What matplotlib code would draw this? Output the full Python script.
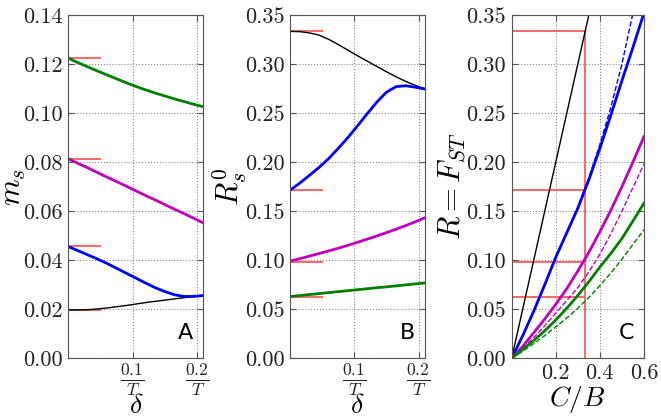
import numpy as np
import matplotlib
matplotlib.use('Agg')
import matplotlib.pyplot as plt

plt.rcParams['mathtext.fontset'] = 'cm'
plt.rcParams['font.family'] = 'cmr10'
plt.rcParams['axes.unicode_minus'] = False
plt.rcParams['xtick.direction'] = 'in'
plt.rcParams['ytick.direction'] = 'in'
plt.rcParams['xtick.top'] = True
plt.rcParams['ytick.right'] = True

# panel A / B: x is delta (units of 1/T)
delta = [0, 0.015, 0.03, 0.045, 0.06, 0.075, 0.09, 0.105, 0.12, 0.135, 0.15, 0.165, 0.18, 0.195, 0.21]

ms_green = [0.1224, 0.1206, 0.1189, 0.1172, 0.1156, 0.1140, 0.1124, 0.1109, 0.1095, 0.1082,
            0.1070, 0.1058, 0.1047, 0.1036, 0.1026]
ms_magenta = [0.0814, 0.0795, 0.0777, 0.0758, 0.0739, 0.0721, 0.0702, 0.0683, 0.0664, 0.0646,
              0.0627, 0.0608, 0.0590, 0.0571, 0.0552]
ms_blue = [0.0455, 0.0439, 0.0422, 0.0405, 0.0387, 0.0367, 0.0347, 0.0327, 0.0307, 0.0288,
           0.0272, 0.0259, 0.0252, 0.0252, 0.0256]
ms_black = [0.0197, 0.0197, 0.0198, 0.0201, 0.0205, 0.0210, 0.0215, 0.0221, 0.0227, 0.0232,
            0.0237, 0.0242, 0.0247, 0.0252, 0.0256]
ms_red = [0.1224, 0.0814, 0.0458, 0.0197]

rs_black = [0.3333, 0.3331, 0.3318, 0.3296, 0.3253, 0.3200, 0.3142, 0.3085, 0.3030, 0.2976,
            0.2922, 0.2870, 0.2823, 0.2783, 0.2747]
rs_blue = [0.1713, 0.1785, 0.1864, 0.1945, 0.2035, 0.2140, 0.2250, 0.2370, 0.2493, 0.2612,
           0.2713, 0.2770, 0.2779, 0.2764, 0.2745]
rs_magenta = [0.0990, 0.1015, 0.1041, 0.1067, 0.1094, 0.1122, 0.1151, 0.1182, 0.1214, 0.1247,
              0.1281, 0.1316, 0.1353, 0.1392, 0.1433]
rs_green = [0.0629, 0.0639, 0.0649, 0.0659, 0.0669, 0.0679, 0.0689, 0.0699, 0.0709, 0.0719,
            0.0728, 0.0738, 0.0748, 0.0758, 0.0768]
rs_red = [0.3333, 0.1713, 0.0985, 0.0629]

# panel C: x is C/B
cb = [0, 0.05, 0.1, 0.15, 0.2, 0.25, 0.3, 0.35, 0.4, 0.45, 0.5, 0.55, 0.6]
f_black = [0, 0.05, 0.1, 0.15, 0.2, 0.25, 0.3, 0.35, 0.4, 0.45, 0.5, 0.55, 0.6]
f_blue = [0, 0.023, 0.048, 0.075, 0.103, 0.128, 0.153, 0.182, 0.214, 0.248, 0.283, 0.317, 0.352]
f_blue_d = [0, 0.023, 0.048, 0.075, 0.103, 0.128, 0.154, 0.184, 0.218, 0.256, 0.300, 0.352, 0.410]
f_magenta = [0, 0.012, 0.026, 0.040, 0.055, 0.071, 0.089, 0.108, 0.129, 0.151, 0.175, 0.200, 0.226]
f_magenta_d = [0, 0.010, 0.021, 0.033, 0.046, 0.059, 0.072, 0.088, 0.106, 0.127, 0.150, 0.174, 0.198]
f_green = [0, 0.009, 0.018, 0.028, 0.039, 0.051, 0.064, 0.078, 0.093, 0.107, 0.122, 0.140, 0.158]
f_green_d = [0, 0.007, 0.015, 0.023, 0.032, 0.041, 0.051, 0.062, 0.074, 0.087, 0.101, 0.116, 0.131]
cb_mark = 1/3

red = '#ff6666'
gcol = '#008000'
mcol = '#bf00bf'
bcol = '#0000ff'

fig = plt.figure(figsize=(6.61, 4.18), dpi=100)
axA = fig.add_axes([0.1033, 0.143, 0.2043, 0.821])
axB = fig.add_axes([0.4387, 0.143, 0.2043, 0.821])
axC = fig.add_axes([0.7741, 0.143, 0.2001, 0.821])

def style(ax):
    for s in ax.spines.values():
        s.set_color('#555555')
    ax.tick_params(colors='#555555', labelcolor='#222222', labelsize=16, length=4, pad=4)
    ax.grid(True, linestyle=':', color='#888888', linewidth=0.8)
    ax.set_axisbelow(True)

# ---- A
for v in ms_red:
    axA.plot([0, 0.05], [v, v], color=red, lw=1.4)
axA.plot(delta, ms_black, color='k', lw=1)
axA.plot(delta, ms_blue, color=bcol, lw=2)
axA.plot(delta, ms_magenta, color=mcol, lw=2)
axA.plot(delta, ms_green, color=gcol, lw=2)
axA.set_xlim(0, 0.21)
axA.set_ylim(0, 0.14)
axA.set_yticks(np.arange(0, 0.141, 0.02))
axA.set_yticklabels(['%.2f' % t for t in np.arange(0, 0.141, 0.02)])
axA.set_ylabel('$m_s$', fontsize=22)
axA.yaxis.set_label_coords(-0.30, 0.5)

# ---- B
for v in rs_red:
    axB.plot([0, 0.05], [v, v], color=red, lw=1.4)
axB.plot(delta, rs_black, color='k', lw=1)
axB.plot(delta, rs_blue, color=bcol, lw=2)
axB.plot(delta, rs_magenta, color=mcol, lw=2)
axB.plot(delta, rs_green, color=gcol, lw=2)
axB.set_xlim(0, 0.21)
axB.set_ylim(0, 0.35)
axB.set_yticks(np.arange(0, 0.351, 0.05))
axB.set_yticklabels(['%.2f' % t for t in np.arange(0, 0.351, 0.05)])
axB.set_ylabel('$R_s^0$', fontsize=22)
axB.yaxis.set_label_coords(-0.30, 0.5)

# ---- C
for v in rs_red:
    axC.plot([0, cb_mark], [v, v], color=red, lw=1.4)
axC.plot([cb_mark, cb_mark], [0, rs_red[0]], color=red, lw=1.4)
axC.plot(cb, f_black, color='k', lw=1)
axC.plot(cb, f_blue, color=bcol, lw=2)
axC.plot(cb, f_blue_d, color=bcol, lw=1, ls='--')
axC.plot(cb, f_magenta, color=mcol, lw=2)
axC.plot(cb, f_magenta_d, color=mcol, lw=1, ls='--')
axC.plot(cb, f_green, color=gcol, lw=2)
axC.plot(cb, f_green_d, color=gcol, lw=1, ls='--')
axC.set_xlim(0, 0.6)
axC.set_ylim(0, 0.35)
axC.set_xticks([0.2, 0.4, 0.6])
axC.set_xticklabels(['0.2', '0.4', '0.6'])
axC.set_yticks(np.arange(0, 0.351, 0.05))
axC.set_yticklabels(['%.2f' % t for t in np.arange(0, 0.351, 0.05)])
axC.set_ylabel('$R = F_{ST}$', fontsize=22)
axC.yaxis.set_label_coords(-0.33, 0.5)
axC.set_xlabel('$C/B$', fontsize=20)
axC.xaxis.set_label_coords(0.5, -0.075)

for ax, lab in zip((axA, axB, axC), 'ABC'):
    style(ax)
    ax.text(0.925, 0.045, lab, transform=ax.transAxes, fontsize=16,
            ha='right', va='bottom', family='DejaVu Sans')

for ax in (axA, axB):
    ax.set_xticks([0.1, 0.2])
    ax.set_xticklabels([r'$\frac{0.1}{T}$', r'$\frac{0.2}{T}$'], fontsize=18)
    ax.tick_params(axis='x', pad=2)
    ax.set_xlabel(r'$\delta$', fontsize=20)
    ax.xaxis.set_label_coords(0.5, -0.1)

fig.savefig('out.png', dpi=100)
